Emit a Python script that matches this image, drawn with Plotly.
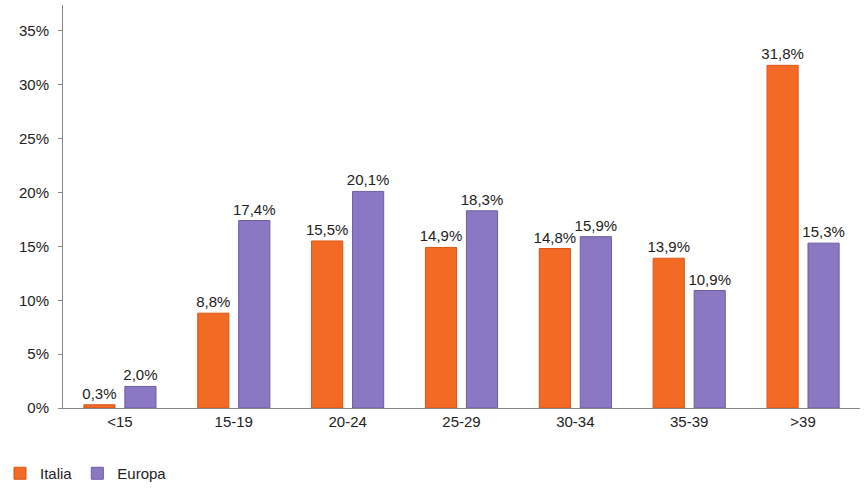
import plotly.graph_objects as go

categories = ["<15", "15-19", "20-24", "25-29", "30-34", "35-39", ">39"]
italia = [0.3, 8.8, 15.5, 14.9, 14.8, 13.9, 31.8]
europa = [2.0, 17.4, 20.1, 18.3, 15.9, 10.9, 15.3]
y_ticks = [0, 5, 10, 15, 20, 25, 30, 35]

def fmt(v):
    return f"{v:.1f}%".replace(".", ",")

font = dict(family="Liberation Sans, Arial, sans-serif", size=15, color="#222222")

fig = go.Figure()
fig.add_trace(go.Bar(
    name="Italia", x=categories, y=italia,
    marker=dict(color="#F26A24", line=dict(color="#D9561A", width=1)),
    text=[fmt(v) for v in italia], textposition="outside", cliponaxis=False,
    constraintext="none", textfont=font,
))
fig.add_trace(go.Bar(
    name="Europa", x=categories, y=europa,
    marker=dict(color="#8B78C2", line=dict(color="#6E5CA8", width=1)),
    text=[fmt(v) for v in europa], textposition="outside", cliponaxis=False,
    constraintext="none", textfont=font,
))

fig.update_layout(
    width=868, height=490,
    margin=dict(l=63, r=8, t=5, b=82),
    paper_bgcolor="white", plot_bgcolor="white",
    barmode="group", bargap=0.28, bargroupgap=0.24,
    font=font,
    showlegend=True,
    legend=dict(orientation="h", x=0.0, y=0.0, xref="container", yref="container",
                xanchor="left", yanchor="bottom", font=dict(size=15, color="#222222"),
                itemwidth=30, traceorder="normal"),
    xaxis=dict(showline=True, linecolor="#888888", linewidth=1, ticks="",
               tickfont=font, showgrid=False),
    yaxis=dict(range=[0, 37.4], tickvals=y_ticks, ticktext=[f"{t}%" for t in y_ticks],
               showline=True, linecolor="#888888", linewidth=1, ticks="outside",
               ticklen=4, tickcolor="#888888", showgrid=False, zeroline=False,
               tickfont=font, ticklabelstandoff=6),
)

fig.write_html("out.html")
